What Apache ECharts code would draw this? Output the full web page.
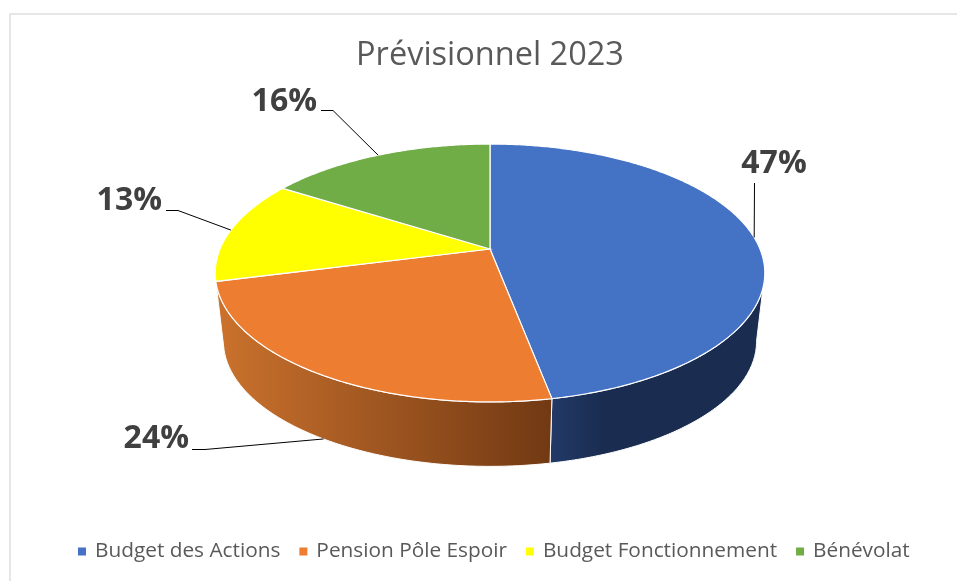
<!DOCTYPE html>
<html>
<head>
<meta charset="utf-8">
<style>html,body{margin:0;padding:0;background:#fff}#c{width:957px;height:581px}</style>
<script src="https://cdn.jsdelivr.net/npm/echarts@6/dist/echarts.min.js"></script>
</head>
<body>
<div id="c"></div>
<script>
const titleText = 'Prévisionnel 2023';
const categories = ['Budget des Actions', 'Pension Pôle Espoir', 'Budget Fonctionnement', 'Bénévolat'];
const values = [47, 24, 13, 16];
const colors = ['#4472C4', '#ED7D31', '#FFFF00', '#70AD47'];
const sideColors = [['#223A68', '#1A2C50'], ['#CB722D', '#713913'], ['#BFBF00', '#BFBF00'], ['#54823A', '#54823A']];
const sideStops = [0.25, 1, 1, 1];

// Pie projection (layout, not data)
const cx = 490, cy = 249, rx = 270, ry = 124.5, persp = 0.186;
const depth = 69, bottomScale = 0.97;
// Leader line / label layout, per category
const leaderBend = [[754.5, 183], [205, 449.5], [178, 210.5], [333, 110.5]];
const leaderEnd = [[754.5, 183], [192, 449.5], [166, 210.5], [321, 110.5]];
const labelPos = [[774, 164, 'center'], [189, 439, 'right'], [162, 201, 'right'], [317, 102, 'right']];
const labelOnBottomRim = [false, true, false, false];

const total = values.reduce((a, b) => a + b, 0);
const visibleFrom = Math.acos(-persp), visibleTo = 2 * Math.PI - visibleFrom;

function project(theta, bottom) {
  const u = Math.sin(theta), v = -Math.cos(theta), w = 1 - persp * v;
  const s = bottom ? bottomScale : 1;
  return [cx + s * rx * u / w, cy + (bottom ? depth : 0) + s * ry * v / w];
}
function arc(a0, a1, bottom) {
  const n = Math.max(2, Math.ceil(Math.abs(a1 - a0) / 0.01)), pts = [];
  for (let i = 0; i <= n; i++) pts.push(project(a0 + (a1 - a0) * i / n, bottom));
  return pts;
}

function makeRender(idx) {
  return function (params, api) {
    const value = api.value(0);
    const before = values.slice(0, idx).reduce((a, b) => a + b, 0);
    const a0 = before / total * 2 * Math.PI, a1 = (before + value) / total * 2 * Math.PI;
    const mid = (a0 + a1) / 2;
    const children = [];
    const s0 = Math.max(a0, visibleFrom), s1 = Math.min(a1, visibleTo);
    if (s1 - s0 > 0.1) {
      children.push({
        type: 'polygon', z2: 1,
        shape: { points: arc(s0, s1, false).concat(arc(s1, s0, true)) },
        style: {
          stroke: '#fff', lineWidth: 1,
          fill: new echarts.graphic.LinearGradient(0, 0, 1, 0, [
            { offset: 0, color: sideColors[idx][0] },
            { offset: sideStops[idx], color: sideColors[idx][1] },
            { offset: 1, color: sideColors[idx][1] }
          ])
        }
      });
    }
    children.push({
      type: 'polygon', z2: 2,
      shape: { points: [[cx, cy]].concat(arc(a0, a1, false)) },
      style: { fill: colors[idx], stroke: '#fff', lineWidth: 1.2 }
    });
    const anchor = project(mid, labelOnBottomRim[idx]);
    children.push({
      type: 'polyline', z2: 3,
      shape: { points: [leaderEnd[idx], leaderBend[idx], anchor] },
      style: { stroke: '#000', lineWidth: 1, fill: null }
    });
    children.push({
      type: 'text', z2: 4,
      style: {
        text: value + '%', x: labelPos[idx][0], y: labelPos[idx][1],
        align: labelPos[idx][2], verticalAlign: 'middle',
        fill: '#404040', font: 'bold 32px "Open Sans"'
      }
    });
    return { type: 'group', children };
  };
}

const chart = echarts.init(document.getElementById('c'), null, { renderer: 'canvas' });
chart.setOption({
  animation: false,
  backgroundColor: '#fff',
  title: {
    text: titleText, left: 490, top: 39, padding: 0, textAlign: 'center',
    textStyle: { color: '#595959', fontFamily: 'Open Sans', fontWeight: 'normal', fontSize: 32.5 }
  },
  legend: {
    left: 78, top: 541, padding: 0, itemWidth: 8, itemHeight: 8, itemGap: 19, icon: 'rect',
    data: categories,
    textStyle: { color: '#595959', fontFamily: 'Open Sans', fontSize: 20.8, padding: [0, 0, 0, 4] }
  },
  graphic: [{
    type: 'rect', silent: true, z: -1,
    shape: { x: 10, y: 14, width: 1200, height: 800 },
    style: { fill: '#fff', stroke: '#DEDEDE', lineWidth: 1.5 }
  }],
  series: categories.map((name, i) => ({
    type: 'custom', name, coordinateSystem: 'none', silent: true,
    itemStyle: { color: colors[i] },
    data: [[values[i]]],
    renderItem: makeRender(i)
  }))
});
</script>
</body>
</html>
